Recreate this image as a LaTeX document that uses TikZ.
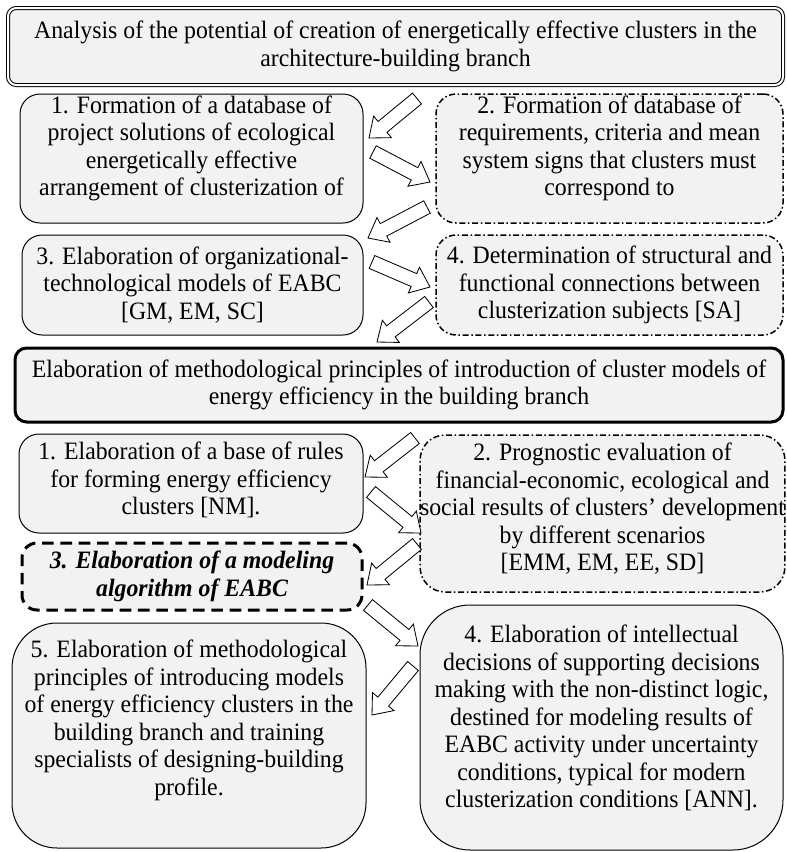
\documentclass[tikz,border=0pt]{standalone}
\usepackage{fontspec}
\setmainfont{Liberation Serif}[FakeStretch=0.952]
\usetikzlibrary{calc}

\definecolor{boxgray}{HTML}{F2F2F2}

\newcommand\blockarrow[2]{%
  \coordinate (ba) at ($(#2)!10.5pt!(#1)$);
  \draw[blockarr] ($(#1)!4.2pt!90:(#2)$) -- ($(ba)!4.2pt!90:(#2)$)
    -- ($(ba)!8.4pt!90:(#2)$) -- (#2) -- ($(ba)!8.4pt!-90:(#2)$)
    -- ($(ba)!4.2pt!-90:(#2)$) -- ($(#1)!4.2pt!-90:(#2)$) -- cycle;}

\begin{document}
\begin{tikzpicture}[x=0.6pt, y=-0.6pt]
\def\px{0.6pt}
\tikzset{
  box/.style={draw, fill=boxgray, line width=0.6pt, align=center, inner sep=0pt,
    font=\fontsize{15pt}{16.5pt}\selectfont},
  dashdot/.style={box, line width=0.9pt,
    dash pattern=on 3.6pt off 1.6pt on 0.9pt off 1.6pt},
  blockarr/.style={draw, fill=white, line width=0.5pt, line join=miter}
}
\useasboundingbox (0,0) rectangle (787,852);

\node[box, double, double distance=1.2pt, rounded corners=5pt,
  minimum width={775*\px}, minimum height={77*\px}] (analysis) at (395.5,46.5)
  {Analysis of the potential of creation of energetically effective clusters in the\\
   architecture-building branch};

\node[box, rounded corners=12pt, minimum width={343*\px}, minimum height={129*\px},
  text depth=15.2pt] (dbproj) at (191.5,158.5)
  {1. Formation of a database of\\ project solutions of ecological\\
   energetically effective\\ arrangement of clusterization of};
\node[dashdot, rounded corners=12pt, minimum width={347*\px}, minimum height={129*\px},
  text depth=15.2pt] (dbreq) at (609.5,158.5)
  {2. Formation of database of\\ requirements, criteria and mean\\
   system signs that clusters must\\ correspond to};

\node[box, rounded corners=12pt, minimum width={341*\px}, minimum height={100*\px}]
  (orgmod) at (192.5,285)
  {3. Elaboration of organizational-\\ technological models of EABC\\ {[GM, EM, SC]}};
\node[dashdot, rounded corners=12pt, minimum width={347*\px}, minimum height={100*\px}]
  (conn) at (609.5,285)
  {4. Determination of structural and\\ functional connections between\\
   clusterization subjects [SA]};

\node[box, line width=1.8pt, rounded corners=7pt, minimum width={768*\px},
  minimum height={74*\px}] (method) at (399,385)
  {Elaboration of methodological principles of introduction of cluster models of\\
   energy efficiency in the building branch};

\node[box, rounded corners=12pt, minimum width={344*\px}, minimum height={99*\px},
  text depth=6.2pt] (rules) at (191,483.5)
  {1. Elaboration of a base of rules\\ for forming energy efficiency\\ clusters [NM].};
\node[dashdot, rounded corners=15pt, minimum width={355*\px}, minimum height={157*\px},
  text depth=8pt] (prognosis) at (602.5,513.5)
  {2. Prognostic evaluation of\\ financial-economic, ecological and\\
   social results of clusters’ development\\ by different scenarios\\ {[EMM, EM, EE, SD]}};

\node[box, line width=1.8pt, dash pattern=on 7pt off 4pt, rounded corners=9pt,
  minimum width={340*\px}, minimum height={67*\px},
  font=\fontsize{15pt}{16.5pt}\selectfont\bfseries\itshape] (algo) at (192,576.5)
  {3. Elaboration of a modeling\\ algorithm of EABC};

\node[box, rounded corners=27pt, minimum width={354*\px}, minimum height={225*\px},
  text depth=21.2pt] (train) at (189,735.5)
  {5. Elaboration of methodological\\ principles of introducing models\\
   of energy efficiency clusters in the\\ building branch and training\\
   specialists of designing-building\\ profile.};
\node[box, rounded corners=30pt, minimum width={363*\px}, minimum height={245*\px},
  text depth=13.4pt] (intel) at (601.5,727.5)
  {4. Elaboration of intellectual\\ decisions of supporting decisions\\
   making with the non-distinct logic,\\ destined for modeling results of\\
   EABC activity under uncertainty\\ conditions, typical for modern\\
   clusterization conditions [ANN].};

\foreach \n/\tx/\ty/\hx/\hy in {1/417/98.5/369/138, 2/373/152/430/182,
    3/427/207/368/238, 4/372/262/430/287, 5/429/302/377/342,
    6/415/438/365/477, 7/371/492/421/533, 8/417/544/367/585,
    9/368/605/418/646, 10/413/666/372/715}{
  \coordinate (t\n) at (\tx,\ty);
  \coordinate (h\n) at (\hx,\hy);
  \blockarrow{t\n}{h\n}
}
\end{tikzpicture}
\end{document}
